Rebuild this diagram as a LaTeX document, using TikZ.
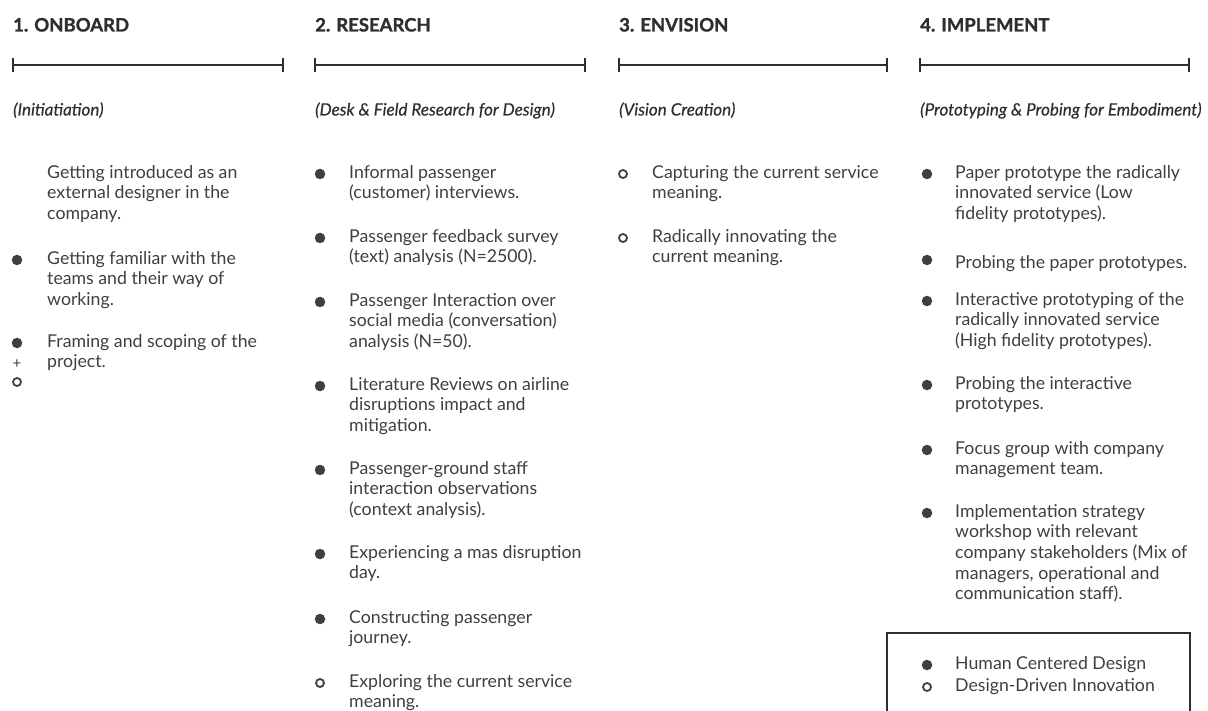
\documentclass[tikz,border=0pt]{standalone}
\usepackage{fontspec}
\setmainfont{Lato}
\newfontfamily\bodyfont{Lato}
\newfontfamily\subfont{Lato}[ItalicFeatures={FakeBold=0.4}]
\newfontfamily\ttlfont{Lato}[BoldFeatures={FakeBold=1.2}]
\definecolor{txt}{HTML}{3F3F3F}
\definecolor{ttl}{HTML}{2E2E2E}
\newcommand\tstr{\rule{0pt}{17pt}}
\begin{document}
\begin{tikzpicture}[x=1pt,y=-1pt,
  title/.style={anchor=base west,inner sep=0,font=\ttlfont\fontsize{18.5}{22}\selectfont\bfseries,text=ttl},
  sub/.style={anchor=base west,inner sep=0,font=\subfont\fontsize{17}{20}\selectfont\itshape,text=ttl},
  body/.style={anchor=north west,inner sep=0,align=left,font=\bodyfont\fontsize{17.7}{20.6}\selectfont,text=txt,execute at begin node=\tstr},
  fb/.style={circle,fill=txt,inner sep=0,minimum size=10.5pt},
  ob/.style={circle,draw=txt,line width=1.8pt,inner sep=0,minimum size=8pt},
  bar/.style={line width=1.8pt,draw=ttl}]
\useasboundingbox (0,0) rectangle (1208,711);
% titles
\node[title] (t1) at (13,31.5) {1. ONBOARD};
\node[title] (t2) at (315,31.5) {2. RESEARCH};
\node[title] (t3) at (619,31.5) {3. ENVISION};
\node[title] (t4) at (920,31.5) {4. IMPLEMENT};
% bars
\foreach \a/\b/\n in {13/283/1,315/585/2,619/887/3,920/1189/4}{
  \coordinate (l\n) at (\a,65); \coordinate (r\n) at (\b,65);
  \draw[bar] (l\n) -- (r\n);
  \draw[bar] ([yshift=-7pt]l\n) -- ([yshift=7pt]l\n);
  \draw[bar] ([yshift=-7pt]r\n) -- ([yshift=7pt]r\n);
}
% subtitles
\node[sub] (s1) at (13,115.5) {(Initiatiation)};
\node[sub] (s2) at (315,115.5) {(Desk \& Field Research for Design)};
\node[sub] (s3) at (619,115.5) {(Vision Creation)};
\node[sub] (s4) at (920,115.5) {(Prototyping \& Probing for Embodiment)};
% column 1
\node[body] (a1) at (47,165) {Getting introduced as an\\external designer in the\\company.};
\node[body] (a2) at (47,251) {Getting familiar with the\\teams and their way of\\working.};
\node[fb] (ba2) at (17,260) {};
\node[body] (a3) at (47,334) {Framing and scoping of the\\project.};
\node[fb] (ba3) at (17,343) {};
\node[anchor=center,inner sep=0,font=\fontsize{15}{15}\selectfont,text=txt] (pa3) at (17,364) {+};
\node[ob] (oa3) at (17,382) {};
% column 2
\node[body] (b1) at (349,165) {Informal passenger\\(customer) interviews.};
\node[fb] (bb1) at (320,174) {};
\node[body] (b2) at (349,229) {Passenger feedback survey\\(text) analysis (N=2500).};
\node[fb] (bb2) at (320,238) {};
\node[body] (b3) at (349,293) {Passenger Interaction over\\social media (conversation)\\analysis (N=50).};
\node[fb] (bb3) at (320,302) {};
\node[body] (b4) at (349,377) {Literature Reviews on airline\\disruptions impact and\\mitigation.};
\node[fb] (bb4) at (320,386) {};
\node[body] (b5) at (349,461) {Passenger-ground staff\\interaction observations\\(context analysis).};
\node[fb] (bb5) at (320,470) {};
\node[body] (b6) at (349,545) {Experiencing a mas disruption\\day.};
\node[fb] (bb6) at (320,554) {};
\node[body] (b7) at (349,610) {Constructing passenger\\journey.};
\node[fb] (bb7) at (320,619) {};
\node[body] (b8) at (349,674) {Exploring the current service\\meaning.};
\node[ob] (bb8) at (320,683) {};
% column 3
\node[body] (c1) at (652,165) {Capturing the current service\\meaning.};
\node[ob] (bc1) at (623,174) {};
\node[body] (c2) at (652,229) {Radically innovating the\\current meaning.};
\node[ob] (bc2) at (623,238) {};
% column 4
\node[body] (d1) at (955,165) {Paper prototype the radically\\innovated service (Low\\fidelity prototypes).};
\node[fb] (bd1) at (927,174) {};
\node[body] (d2) at (955,251) {Probing the paper prototypes.};
\node[fb] (bd2) at (927,260) {};
\node[body] (d3) at (955,292) {Interactive prototyping of the\\radically innovated service\\(High fidelity prototypes).};
\node[fb] (bd3) at (927,301) {};
\node[body] (d4) at (955,376) {Probing the interactive\\prototypes.};
\node[fb] (bd4) at (927,385) {};
\node[body] (d5) at (955,441) {Focus group with company\\management team.};
\node[fb] (bd5) at (927,450) {};
\node[body] (d6) at (955,504) {Implementation strategy\\workshop with relevant\\company stakeholders (Mix of\\managers, operational and\\communication staff).};
\node[fb] (bd6) at (927,513) {};
% legend
\coordinate (g1) at (887,715); \coordinate (g2) at (887,633);
\coordinate (g3) at (1190,633); \coordinate (g4) at (1190,715);
\draw[line width=1.3pt,draw=ttl] (g1) -- (g2) -- (g3) -- (g4);
\node[body,font=\bodyfont\fontsize{17.7}{22}\selectfont] (e1) at (955,656) {Human Centered Design\\Design-Driven Innovation};
\node[fb] (be1) at (927,665) {};
\node[ob] (be2) at (927,687) {};
\end{tikzpicture}
\end{document}
